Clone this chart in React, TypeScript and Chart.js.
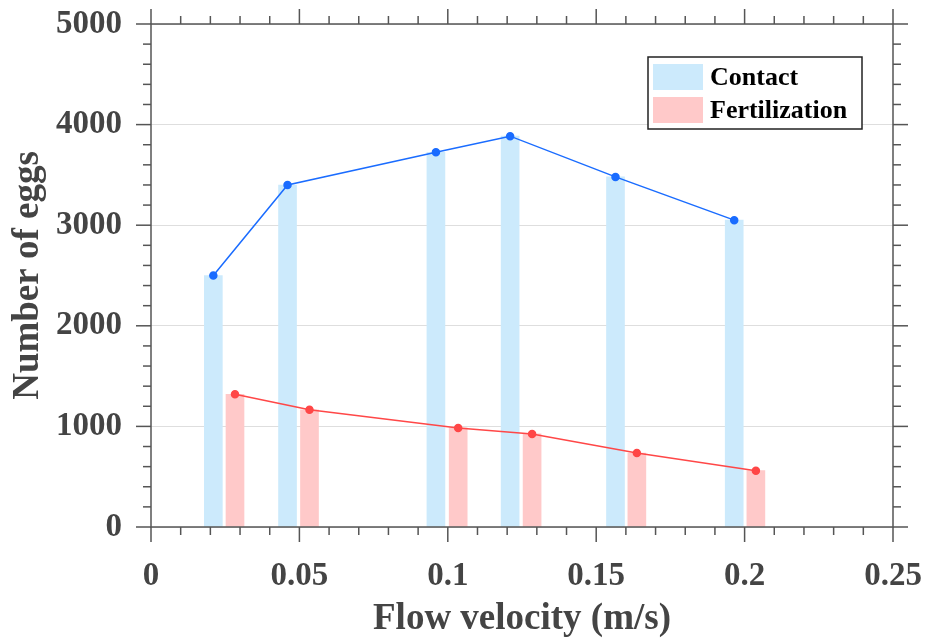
import React, { useEffect, useRef } from "react";
import { Chart, registerables } from "chart.js";
Chart.register(...registerables);

const contactX = [0.021, 0.046, 0.096, 0.121, 0.1565, 0.1965];
const contactEggs = [2500, 3400, 3725, 3885, 3480, 3050];
const fertX = [0.0283, 0.0534, 0.1035, 0.1284, 0.1637, 0.2038];
const fertEggs = [1320, 1165, 985, 925, 735, 560];
const xTicks = [0, 0.05, 0.1, 0.15, 0.2, 0.25];
const yTicks = [0, 1000, 2000, 3000, 4000, 5000];
const seriesNames = ["Contact", "Fertilization"];
const xTitle = "Flow velocity (m/s)";
const yTitle = "Number of eggs";

const BAR_BLUE = "#cceafc";
const BAR_PINK = "#ffc9c9";
const LINE_BLUE = "#1a6cff";
const LINE_RED = "#ff4747";
const AXIS = "#555555";
const TEXT = "#444444";
const FONT = "'Liberation Serif', 'Times New Roman', serif";

const framePlugin = {
  id: "frame",
  afterDraw(chart: any) {
    const { ctx, chartArea: a, scales } = chart;
    const x = scales.x;
    const y = scales.y;
    ctx.save();
    ctx.strokeStyle = AXIS;
    ctx.lineWidth = 1.5;
    const line = (x1: number, y1: number, x2: number, y2: number) => {
      ctx.beginPath();
      ctx.moveTo(x1, y1);
      ctx.lineTo(x2, y2);
      ctx.stroke();
    };
    ctx.strokeRect(a.left, a.top, a.right - a.left, a.bottom - a.top);
    const major = 15;
    const minor = 8;
    const xMin = xTicks[0];
    const xMax = xTicks[xTicks.length - 1];
    const xStep = (xTicks[1] - xTicks[0]) / 5;
    const nx = Math.round((xMax - xMin) / xStep);
    for (let i = 0; i <= nx; i++) {
      const px = x.getPixelForValue(xMin + i * xStep);
      const len = i % 5 === 0 ? major : minor;
      line(px, a.bottom, px, a.bottom + len);
      line(px, a.top, px, a.top - len);
    }
    const yMin = yTicks[0];
    const yMax = yTicks[yTicks.length - 1];
    const yStep = (yTicks[1] - yTicks[0]) / 5;
    const ny = Math.round((yMax - yMin) / yStep);
    for (let i = 0; i <= ny; i++) {
      const py = y.getPixelForValue(yMin + i * yStep);
      const len = i % 5 === 0 ? major : minor;
      line(a.left, py, a.left - len, py);
      line(a.right, py, a.right + len, py);
    }
    ctx.restore();
  },
};

const legendPlugin = {
  id: "boxLegend",
  afterDraw(chart: any) {
    const { ctx, chartArea: a } = chart;
    const bx = a.right - 245;
    const by = a.top + 33;
    const bw = 214;
    const bh = 72;
    ctx.save();
    ctx.fillStyle = "#ffffff";
    ctx.fillRect(bx, by, bw, bh);
    ctx.strokeStyle = "#222222";
    ctx.lineWidth = 1.5;
    ctx.strokeRect(bx, by, bw, bh);
    const colors = [BAR_BLUE, BAR_PINK];
    ctx.font = `bold 26px ${FONT}`;
    ctx.textBaseline = "middle";
    ctx.textAlign = "left";
    seriesNames.forEach((name, i) => {
      const sy = by + 7 + i * 33;
      ctx.fillStyle = colors[i];
      ctx.fillRect(bx + 5, sy, 50, 26);
      ctx.fillStyle = "#000000";
      ctx.fillText(name, bx + 62, sy + 14);
    });
    ctx.restore();
  },
};

export default function App() {
  const ref = useRef<HTMLCanvasElement | null>(null);
  useEffect(() => {
    if (!ref.current) return;
    const chart = new Chart(ref.current, {
      type: "bar",
      data: {
        datasets: [
          {
            type: "line",
            label: seriesNames[0] + " line",
            data: contactX.map((v, i) => ({ x: v, y: contactEggs[i] })),
            borderColor: LINE_BLUE,
            backgroundColor: LINE_BLUE,
            pointBackgroundColor: LINE_BLUE,
            pointBorderColor: LINE_BLUE,
            pointRadius: 3.5,
            borderWidth: 1.5,
            order: 1,
          } as any,
          {
            type: "line",
            label: seriesNames[1] + " line",
            data: fertX.map((v, i) => ({ x: v, y: fertEggs[i] })),
            borderColor: LINE_RED,
            backgroundColor: LINE_RED,
            pointBackgroundColor: LINE_RED,
            pointBorderColor: LINE_RED,
            pointRadius: 3.5,
            borderWidth: 1.5,
            order: 1,
          } as any,
          {
            type: "bar",
            label: seriesNames[0],
            data: contactX.map((v, i) => ({ x: v, y: contactEggs[i] })),
            backgroundColor: BAR_BLUE,
            barThickness: 18,
            grouped: false,
            order: 2,
          } as any,
          {
            type: "bar",
            label: seriesNames[1],
            data: fertX.map((v, i) => ({ x: v, y: fertEggs[i] })),
            backgroundColor: BAR_PINK,
            barThickness: 18,
            grouped: false,
            order: 2,
          } as any,
        ],
      },
      options: {
        animation: false,
        responsive: true,
        maintainAspectRatio: false,
        layout: { padding: { top: 24, right: 37, left: 0, bottom: 0 } },
        plugins: {
          legend: { display: false },
          tooltip: { enabled: false },
        },
        scales: {
          x: {
            type: "linear",
            min: xTicks[0],
            max: xTicks[xTicks.length - 1],
            offset: false,
            afterBuildTicks: (s: any) => {
              s.ticks = xTicks.map((v) => ({ value: v }));
            },
            afterFit: (s: any) => {
              s.height = 116;
              s.paddingLeft = 0;
              s.paddingRight = 0;
              s.paddingTop = 0;
              s.paddingBottom = 0;
            },
            grid: { display: false, drawTicks: false },
            border: { display: false },
            ticks: {
              padding: 30,
              color: TEXT,
              font: { family: FONT, size: 33, weight: "bold" },
              callback: (v: any) => String(Number(v)),
              maxRotation: 0,
              autoSkip: false,
            },
            title: {
              display: true,
              text: xTitle,
              color: TEXT,
              font: { family: FONT, size: 37, weight: "bold" },
              padding: { top: 0, bottom: 1 },
            },
          },
          y: {
            type: "linear",
            min: yTicks[0],
            max: yTicks[yTicks.length - 1],
            afterBuildTicks: (s: any) => {
              s.ticks = yTicks.map((v) => ({ value: v }));
            },
            afterFit: (s: any) => {
              s.width = 151;
              s.paddingLeft = 0;
              s.paddingRight = 0;
              s.paddingTop = 0;
              s.paddingBottom = 0;
            },
            grid: { color: "#dedede", lineWidth: 1, drawTicks: false },
            border: { display: false },
            ticks: {
              padding: 29,
              color: TEXT,
              font: { family: FONT, size: 33, weight: "bold" },
              callback: (v: any) => String(v),
              autoSkip: false,
            },
            title: {
              display: true,
              text: yTitle,
              color: TEXT,
              font: { family: FONT, size: 37, weight: "bold" },
              padding: { top: 6, bottom: 0 },
            },
          },
        },
      },
      plugins: [framePlugin, legendPlugin],
    });
    return () => chart.destroy();
  }, []);
  return (
    <div style={{ position: "absolute", left: 0, top: 0, width: 930, height: 643 }}>
      <canvas ref={ref} />
    </div>
  );
}
